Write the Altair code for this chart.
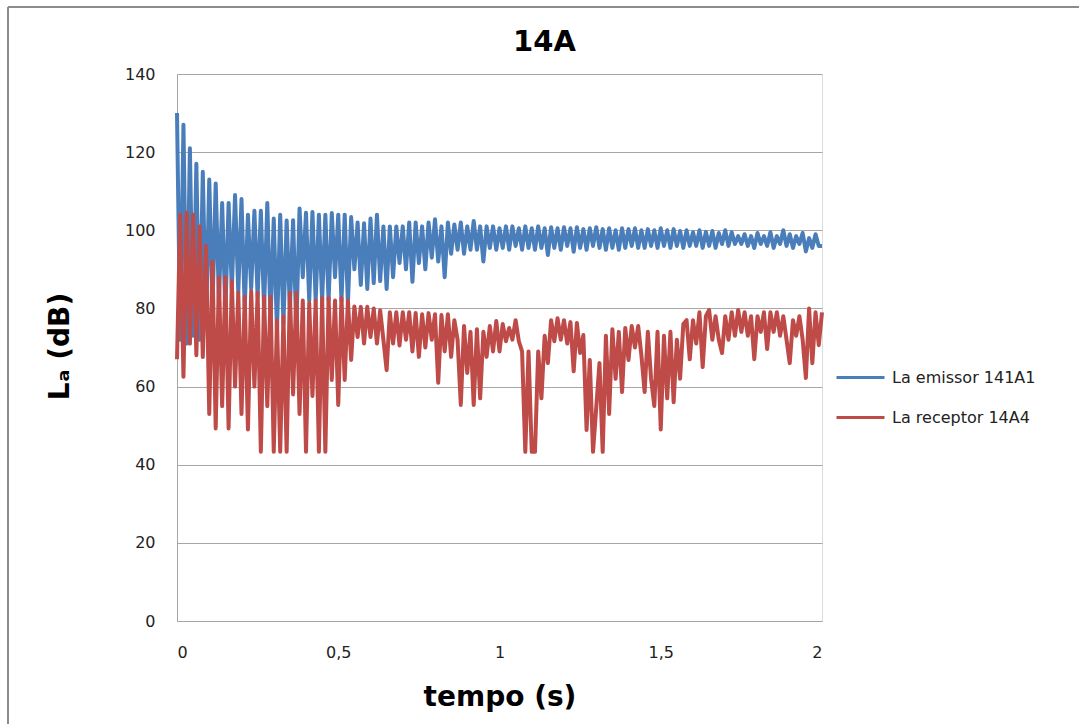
import altair as alt
import pandas as pd

title_text = "14A"
series_names = ["La emissor 141A1", "La receptor 14A4"]
series_colors = ["#4A7EBB", "#BE4B48"]
x_ticks = [0, 0.5, 1, 1.5, 2]
y_ticks = [0, 20, 40, 60, 80, 100, 120, 140]

# time stamps (s), sampled every 0.01 s
times = [round(i * 0.01, 2) for i in range(201)]

emissor = [
    130, 72, 127, 71, 121, 73, 117, 72, 115, 76,
    113, 80, 112, 82, 107, 79, 107, 85, 109, 84,
    108, 80, 104, 85, 105, 83, 105, 80, 107, 77,
    103, 74.5, 104, 76, 102.5, 80, 102.6, 75, 105.6, 88,
    104.5, 82, 104.7, 82, 104, 82, 104, 82, 104.4, 88,
    104, 82, 104, 81.4, 103.4, 90, 102, 86, 101.8, 85,
    103, 86.5, 104, 87, 101, 85, 101, 88, 101, 91.6,
    101, 90, 102, 86.8, 102, 91.6, 101, 90, 102, 93,
    102.8, 92, 101, 88, 102, 94, 101.5, 95, 102, 94,
    101, 95, 102.4, 95, 101, 92, 101, 95.5, 101, 95,
    100.5, 95.5, 101, 95, 101, 96, 100.5, 95, 101, 95.5,
    100.5, 95, 101, 95.5, 100.5, 93.7, 100.8, 95.5, 100.5, 95,
    100.8, 96, 100.5, 94.5, 100.8, 95.5, 100.3, 95, 100.5, 96,
    100.8, 95.5, 100.3, 95, 100.5, 95.5, 100, 95, 100.5, 95.5,
    100.3, 96, 100.5, 95.5, 100, 95.5, 100.3, 96, 100, 95.5,
    100.5, 96, 100, 95.5, 100.3, 96, 99.8, 95.5, 100, 96,
    99.5, 96, 100, 95.5, 99.6, 96, 99.8, 95.5, 99.3, 96.5,
    100, 96, 99.5, 96.5, 98.5, 96.5, 99, 96, 98.5, 95.5,
    99.3, 96.5, 98.5, 96, 99.5, 95.5, 98.5, 96.5, 100, 96,
    99, 95.5, 98.5, 96.5, 99.3, 94.6, 98, 95.5, 99, 96,
    96,
]

receptor = [
    67, 104, 62.5, 104.5, 71, 104, 68, 101, 67.6, 96,
    53, 92, 49.3, 88, 55, 88, 49.3, 87, 60, 84,
    53, 83, 49, 84.4, 60, 84, 43.3, 83, 55, 83,
    43.3, 77, 43.3, 78, 43.3, 84, 58, 84, 53, 82,
    43.3, 81.4, 57.6, 82, 43.3, 82.7, 43.3, 82.7, 61.7, 82,
    55.3, 82.7, 61.7, 82, 66.8, 80.5, 72.7, 80.4, 71, 80.4,
    72.7, 80, 71, 79.5, 72, 64.2, 79, 71, 79, 70.5,
    79, 72, 79, 69, 78.8, 67.6, 78.5, 70, 78.8, 72,
    78.5, 61, 78.3, 69, 78.5, 67.6, 77, 72, 55.3, 75.5,
    63.5, 74, 55.3, 74.7, 57, 74, 67.6, 75.5, 69, 76.8,
    69, 76, 71.6, 75, 72, 77, 71.6, 69, 43.3, 69,
    43.3, 43.3, 69, 57, 73, 66, 77, 71.6, 77.5, 72,
    77, 71, 76.5, 63.9, 76.3, 68.6, 73.2, 48.9, 66.8, 43.3,
    54.6, 66, 43.3, 73, 53, 74.7, 62, 74, 58.6, 75,
    66.8, 75.5, 70, 75.5, 68, 58.6, 74, 62, 55, 74,
    49, 73, 57, 74, 56, 72, 62, 76, 77, 67,
    77, 71, 79, 65, 78, 79.6, 72, 78, 72, 68.6,
    78, 72, 79, 73, 79.6, 74, 79, 73, 78, 67,
    78, 74, 79, 69.6, 79, 74, 79, 73, 78, 72,
    66, 77, 73, 78, 72, 62.2, 80, 66, 79, 70.6,
    79,
]

df = pd.concat([
    pd.DataFrame({"t": times, "La": emissor, "serie": series_names[0]}),
    pd.DataFrame({"t": times, "La": receptor, "serie": series_names[1]}),
])

FONT = "DejaVu Sans"

lines = alt.Chart(df).mark_line(strokeWidth=4, strokeJoin="round").encode(
    x=alt.X(
        "t:Q",
        scale=alt.Scale(domain=[0, 2], nice=False, zero=False),
        axis=alt.Axis(
            values=x_ticks,
            title="tempo (s)",
            labelExpr="replace(toString(datum.value), '.', ',')",
            grid=False,
            ticks=False,
            domain=True,
            domainColor="#A6A6A6",
            labelPadding=23,
            labelFontSize=16,
            labelColor="#222222",
            labelFont=FONT,
            titleFont=FONT,
            titleFontSize=28,
            titleFontWeight="bold",
            titleColor="#000000",
            titleBaseline="middle",
            titleY=76,
        ),
    ),
    y=alt.Y(
        "La:Q",
        scale=alt.Scale(domain=[0, 140], nice=False),
        axis=alt.Axis(
            values=y_ticks,
            title="Lₐ (dB)",
            grid=True,
            gridColor="#A6A6A6",
            gridWidth=1,
            ticks=False,
            domain=True,
            domainColor="#A6A6A6",
            labelPadding=22,
            labelFontSize=16,
            labelColor="#222222",
            labelFont=FONT,
            titleFont=FONT,
            titleFontSize=28,
            titleFontWeight="bold",
            titleColor="#000000",
            titleAngle=-90,
            titleAlign="center",
            titleBaseline="middle",
            titleX=-117,
            titleY=272,
        ),
    ),
    color=alt.Color(
        "serie:N",
        scale=alt.Scale(domain=series_names, range=series_colors),
        legend=alt.Legend(
            title=None,
            orient="none",
            legendX=658,
            legendY=278,
            symbolType="stroke",
            symbolSize=2304,
            symbolStrokeWidth=3,
            labelFontSize=16,
            labelFont=FONT,
            labelColor="#222222",
            labelOffset=6,
            rowPadding=6,
        ),
    ),
)

frame_df = pd.DataFrame({"k": [0]})
frame_top = alt.Chart(frame_df).mark_rule(color="#8C8C8C", strokeWidth=2).encode(
    x=alt.value(-169), x2=alt.value(902), y=alt.value(-67)
)
frame_left = alt.Chart(frame_df).mark_rule(color="#8C8C8C", strokeWidth=2).encode(
    x=alt.value(-169), y=alt.value(-67), y2=alt.value(650)
)

chart = alt.layer(lines, frame_top, frame_left).properties(
    width=645,
    height=547,
    title=alt.TitleParams(
        text=title_text,
        font=FONT,
        fontSize=29,
        fontWeight="bold",
        color="#000000",
        anchor="middle",
        dx=45,
        dy=65,
        offset=14,
    ),
    autosize=alt.AutoSizeParams(type="none"),
    padding={"left": 177, "top": 74, "right": 257, "bottom": 103},
).configure_view(stroke=None).configure(background="white")

chart.save("out.html", embed_options={"renderer": "svg", "actions": False})
